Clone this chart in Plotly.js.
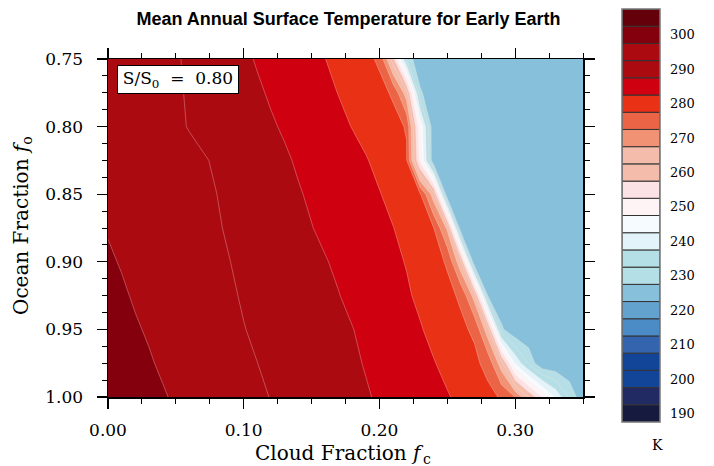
<!DOCTYPE html>
<html><head><meta charset="utf-8">
<script src="https://cdn.plot.ly/plotly-3.0.1.min.js"></script>
<style>html,body{margin:0;padding:0;background:#fff}</style>
</head><body><div id="chart" style="width:714px;height:466px"></div>
<script>
// Cloud fraction grid (x) and ocean fraction grid (y)
const cloudFraction = [0.00,0.01,0.02,0.03,0.04,0.05,0.06,0.07,0.08,0.09,0.10,0.11,0.12,0.13,0.14,0.15,0.16,0.17,0.18,0.19,0.20,0.21,0.22,0.23,0.24,0.25,0.26,0.27,0.28,0.29,0.30,0.31,0.32,0.33,0.34,0.35];
const oceanFraction = [0.75,0.775,0.80,0.825,0.85,0.875,0.90,0.925,0.95,0.975,1.00];

// Mean annual surface temperature (K), one row per ocean fraction
const tOcean0750 = [293.0,292.5,291.9,291.4,290.8,290.3,289.5,288.6,287.6,286.6,285.7,284.7,283.8,282.8,281.9,280.9,280.05,278.6,277.2,275.8,274.5,257.0,229.0,220.2,220.2,220.2,220.2,220.2,220.2,220.2,220.2,220.2,220.2,220.2,220.2,220.2];
const tOcean0775 = [293.3,292.7,292.1,291.5,291.0,290.4,289.7,288.9,288.0,287.2,286.3,285.5,284.6,283.7,282.7,281.8,280.8,279.9,278.6,277.2,275.9,274.6,262.2,226.0,220.2,220.2,220.2,220.2,220.2,220.2,220.2,220.2,220.2,220.2,220.2,220.2];
const tOcean0800 = [293.5,292.9,292.3,291.7,291.1,290.5,289.85,289.1,288.4,287.6,286.9,286.2,285.4,284.6,283.7,282.7,281.8,280.8,279.9,278.6,277.3,276.0,274.75,245.0,220.2,220.2,220.2,220.2,220.2,220.2,220.2,220.2,220.2,220.2,220.2,220.2];
const tOcean0825 = [294.0,293.5,292.9,292.4,291.9,291.3,290.8,290.3,289.6,288.8,288.0,287.1,286.3,285.5,284.6,283.8,282.9,282.0,281.1,280.3,278.8,277.1,275.4,248.0,220.2,220.2,220.2,220.2,220.2,220.2,220.2,220.2,220.2,220.2,220.2,220.2];
const tOcean0850 = [294.4,293.85,293.3,292.75,292.2,291.65,291.1,290.55,290.02,289.2,288.4,287.7,286.9,286.1,285.3,284.5,283.6,282.8,281.9,281.0,280.2,278.7,277.1,275.5,262.0,220.2,220.2,220.2,220.2,220.2,220.2,220.2,220.2,220.2,220.2,220.2];
const tOcean0875 = [294.8,294.2,293.7,293.1,292.5,292.0,291.4,290.8,290.3,289.6,288.9,288.1,287.4,286.6,285.9,285.1,284.3,283.5,282.6,281.8,280.9,280.1,278.5,276.8,275.03,264.0,220.2,220.2,220.2,220.2,220.2,220.2,220.2,220.2,220.2,220.2];
const tOcean0900 = [295.4,294.8,294.2,293.6,293.0,292.4,291.8,291.2,290.6,290.02,289.3,288.6,287.9,287.3,286.6,285.9,285.2,284.4,283.5,282.6,281.7,280.8,279.8,278.1,276.3,274.6,261.0,220.2,220.2,220.2,220.2,220.2,220.2,220.2,220.2,220.2];
const tOcean0925 = [296.0,295.4,294.7,294.1,293.5,292.9,292.3,291.6,291.0,290.4,289.7,289.1,288.4,287.8,287.1,286.4,285.8,285.1,284.2,283.3,282.4,281.4,280.5,279.2,277.6,276.0,274.4,262.8,224.5,220.2,220.2,220.2,220.2,220.2,220.2,220.2];
const tOcean0950 = [296.6,296.0,295.3,294.7,294.0,293.4,292.7,292.1,291.4,290.8,290.1,289.5,288.9,288.3,287.6,287.0,286.4,285.75,285.1,284.2,283.2,282.3,281.3,280.3,278.9,277.4,275.8,274.3,261.7,226.0,220.2,220.2,220.2,220.2,220.2,220.2];
const tOcean0975 = [297.3,296.6,296.0,295.3,294.6,294.0,293.3,292.7,292.0,291.3,290.7,290.02,289.4,288.7,288.1,287.4,286.8,286.2,285.5,284.8,283.9,283.0,282.0,281.1,280.2,278.9,277.4,276.0,273.5,262.0,240.0,229.0,220.2,220.2,220.2,220.2];
const tOcean1000 = [297.9,297.2,296.6,295.9,295.3,294.6,293.9,293.3,292.6,291.9,291.3,290.6,289.9,289.3,288.6,287.9,287.3,286.6,286.0,285.3,284.6,283.7,282.9,282.0,281.2,280.3,279.1,277.7,276.3,274.5,269.9,259.7,249.5,239.3,229.1,221.0];

// Contour bands: lower edge of each 5 K band and its colour (185-190 K up to 300-305 K)
const bandLower = [185,190,195,200,205,210,215,220,225,230,235,240,245,250,255,260,265,270,275,280,285,290,295,300];
const levelColors = ['#161a3e','#222a63','#124597','#124597','#3464ae','#4b8cc6','#63a1cf','#86c0da',
  '#b5dfe6','#b5dfe6','#e2f4fa','#f5fbfe','#fef4f6','#fbe2e5','#f4bcaa','#f4bcaa',
  '#f09273','#ea6445','#e83115','#cf0010','#ab0a11','#ab0a11','#83000c','#640009'];
const colorbarTicks = [190,200,210,220,230,240,250,260,270,280,290,300];
const xTicks = [0.00,0.10,0.20,0.30];
const yTicks = [0.75,0.80,0.85,0.90,0.95,1.00];

const temperature = [tOcean0750,tOcean0775,tOcean0800,tOcean0825,tOcean0850,tOcean0875,tOcean0900,tOcean0925,tOcean0950,tOcean0975,tOcean1000];

const bandSize = 5;
const nBands = levelColors.length + 1; // plotly's contour colour map spans start-size/2 .. end+size/2
const colorscale = [[0, levelColors[0]]];
levelColors.forEach((c, k) => {
  colorscale.push([(k + 0.5) / nBands, c]);
  colorscale.push([(k + 1.5) / nBands, c]);
});
colorscale.push([1, levelColors[levelColors.length - 1]]);

const W = 714, H = 466;
const serif = 'DejaVu Serif';
const px = v => v / W, py = v => 1 - v / H;

const main = {
  type: 'contour', x: cloudFraction, y: oceanFraction, z: temperature,
  autocontour: false,
  contours: {start: bandLower[0], end: bandLower[bandLower.length - 1] + bandSize, size: bandSize, coloring: 'fill', showlines: true},
  colorscale: colorscale,
  line: {color: 'rgba(255,225,225,0.45)', width: 0.7, smoothing: 0},
  showscale: false, hoverinfo: 'skip'
};

// colour key drawn as stacked 5 K boxes, labels centred on alternate boxes
const key = {
  type: 'bar', xaxis: 'x3', yaxis: 'y3',
  x: bandLower.map(() => 0.5), y: bandLower.map(() => bandSize), base: bandLower,
  width: 1, marker: {color: levelColors, line: {color: '#333', width: 1}},
  hoverinfo: 'skip', showlegend: false
};

const axisCommon = {
  showline: true, linecolor: '#000', linewidth: 1.5, mirror: 'allticks',
  ticks: 'outside', ticklen: 10, tickwidth: 1.2, tickcolor: '#000',
  showgrid: false, zeroline: false, tickmode: 'array',
  tickfont: {family: serif, size: 17, color: '#000'}
};

const layout = {
  width: W, height: H,
  margin: {l: 0, r: 0, t: 0, b: 0, pad: 0},
  paper_bgcolor: '#fff', plot_bgcolor: '#fff',
  showlegend: false,
  title: {text: '<b>Mean Annual Surface Temperature for Early Earth</b>',
    font: {family: 'Liberation Sans', size: 18, color: '#000'},
    x: 348.5 / W, xref: 'container', xanchor: 'center', y: 1 - 19 / H, yref: 'container', yanchor: 'middle'},
  xaxis: Object.assign({}, axisCommon, {
    domain: [px(108), px(583)], anchor: 'y', ticklabelstandoff: 7,
    range: [0, 0.35], tickvals: xTicks, ticktext: xTicks.map(v => v.toFixed(2)),
    minor: {dtick: 0.025, tick0: 0, ticks: 'outside', ticklen: 5, tickwidth: 1, tickcolor: '#000'}
  }),
  yaxis: Object.assign({}, axisCommon, {
    domain: [py(397), py(59)], anchor: 'x', ticklabelstandoff: 10,
    range: [1.0, 0.75], tickvals: yTicks, ticktext: yTicks.map(v => v.toFixed(2)),
    minor: {dtick: 0.0125, tick0: 0.75, ticks: 'outside', ticklen: 5, tickwidth: 1, tickcolor: '#000'}
  }),
  xaxis3: {domain: [px(622), px(660)], range: [0, 1], visible: false, anchor: 'y3', fixedrange: true},
  yaxis3: {domain: [py(422), py(9)], range: [bandLower[0], bandLower[bandLower.length - 1] + bandSize],
    anchor: 'x3', side: 'right', showgrid: false, zeroline: false, showline: false, ticks: '',
    tickmode: 'array', tickvals: colorbarTicks.map(v => v - bandSize / 2), ticktext: colorbarTicks.map(String),
    tickfont: {family: serif, size: 13, color: '#000'}, ticklabelstandoff: 9},
  shapes: [
    {type: 'rect', xref: 'paper', yref: 'paper', x0: px(622), x1: px(660), y0: py(422), y1: py(9),
     line: {color: '#777', width: 1.5}, fillcolor: 'rgba(0,0,0,0)'}
  ],
  annotations: [
    {text: 'Cloud Fraction <i>f</i>', xref: 'paper', yref: 'paper', x: px(426), y: py(453),
     xanchor: 'right', yanchor: 'middle', showarrow: false,
     font: {family: serif, size: 20, color: '#000'}},
    {text: 'c', xref: 'paper', yref: 'paper', x: px(421), y: py(459),
     xanchor: 'left', yanchor: 'middle', showarrow: false,
     font: {family: serif, size: 14, color: '#000'}},
    {text: 'Ocean Fraction <i>f</i><sub>o</sub>', xref: 'paper', yref: 'paper', x: px(22), y: py(226),
     xanchor: 'center', yanchor: 'middle', showarrow: false, textangle: -90,
     font: {family: serif, size: 20, color: '#000'}},
    {text: 'S/S<sub>0</sub>  =  0.80', xref: 'x', yref: 'y', x: 0.0066, y: 0.7548,
     xanchor: 'left', yanchor: 'top', showarrow: false,
     font: {family: serif, size: 17, color: '#000'},
     bgcolor: '#fff', bordercolor: '#000', borderwidth: 1, borderpad: 2, width: 116, height: 23},
    {text: 'K', xref: 'paper', yref: 'paper', x: px(657), y: py(445),
     xanchor: 'center', yanchor: 'middle', showarrow: false,
     font: {family: serif, size: 14, color: '#000'}}
  ]
};

Plotly.newPlot('chart', [main, key], layout, {displayModeBar: false, staticPlot: true});
</script></body></html>
